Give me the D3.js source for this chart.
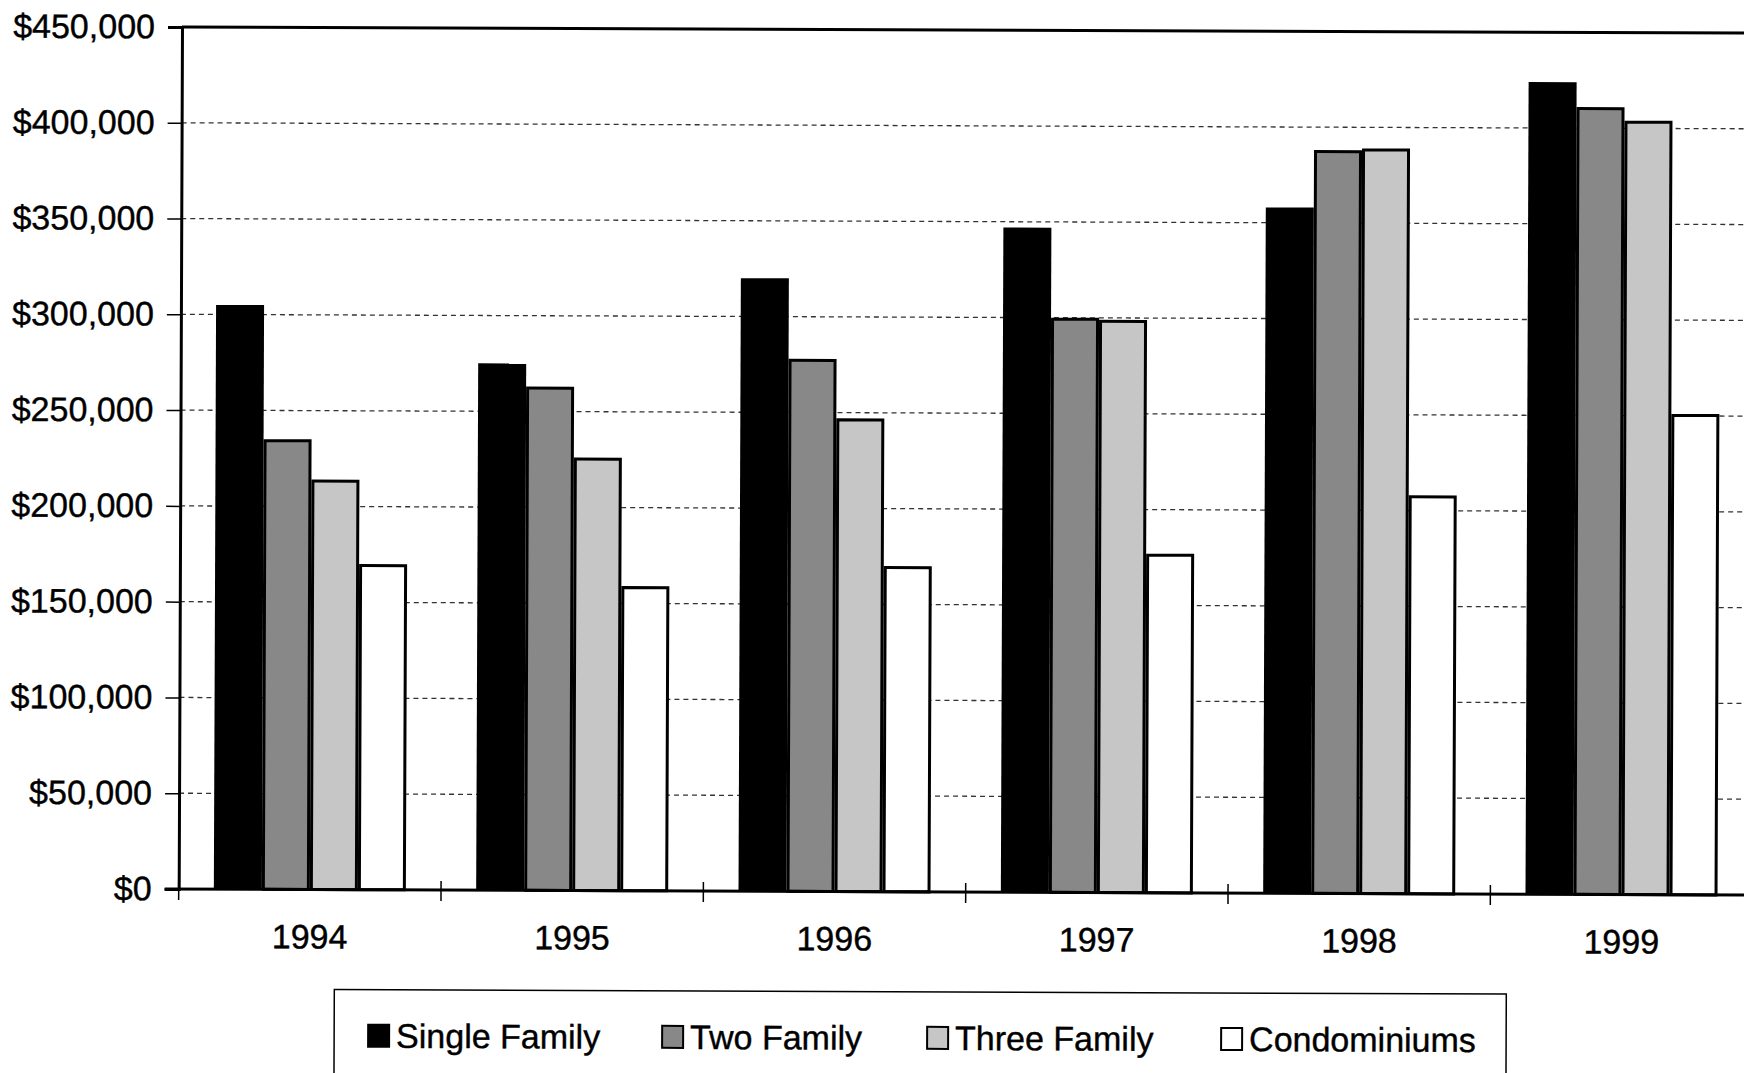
<!DOCTYPE html>
<html>
<head>
<meta charset="utf-8">
<script src="https://cdn.jsdelivr.net/npm/d3@7"></script>
<style>
  html, body { margin: 0; padding: 0; background: #fff; overflow: hidden; }
  svg { display: block; }
  text { font-family: "Liberation Sans", Arial, sans-serif; fill: #000; stroke: #000; stroke-width: 0.4px; }
</style>
</head>
<body>
<svg id="chart" width="1744" height="1073"></svg>
<script>
// ---- data ----
const years = ["1994", "1995", "1996", "1997", "1998", "1999"];
const seriesNames = ["Single Family", "Two Family", "Three Family", "Condominiums"];
const singleFamily = [305000, 275000, 320000, 347000, 358000, 424000];
const twoFamily    = [235000, 263000, 278000, 300000, 388000, 411000];
const threeFamily  = [214000, 226000, 247000, 299000, 389000, 404000];
const condominiums = [170000, 159000, 170000, 177000, 208000, 251000];
const yTicks = [0, 50000, 100000, 150000, 200000, 250000, 300000, 350000, 400000, 450000];

const seriesValues = [singleFamily, twoFamily, threeFamily, condominiums];
const fills = ["#000000", "#888888", "#c6c6c6", "#ffffff"];

// ---- layout ----
const plotLeft = 182, plotRight = 1756, plotTop = 27, plotBottom = 889;
const svgRoot = d3.select("#chart");
// the scanned original is turned by a fraction of a degree
const svg = svgRoot.append("g").attr("transform", `rotate(0.22, ${plotLeft}, ${plotTop})`);

const y = d3.scaleLinear().domain([0, 450000]).range([plotBottom, plotTop]);
const x0 = d3.scaleBand().domain(years).range([plotLeft, plotRight])
  .paddingInner(0.268).paddingOuter(0.134);
const x1 = d3.scaleBand().domain(seriesNames).range([0, x0.bandwidth()]).padding(0);
const step = x0.step();

// gridlines
svg.append("g").selectAll("line")
  .data(yTicks.filter(d => d > 0 && d < 450000))
  .join("line")
  .attr("x1", plotLeft).attr("x2", plotRight)
  .attr("y1", d => y(d)).attr("y2", d => y(d))
  .attr("stroke", "#333").attr("stroke-width", 1.3)
  .attr("stroke-dasharray", "5,4");

// bars
const groups = svg.append("g").selectAll("g")
  .data(years)
  .join("g")
  .attr("transform", d => `translate(${x0(d)},0)`);

groups.selectAll("rect")
  .data((yr, i) => seriesNames.map((s, j) => ({ s, j, v: seriesValues[j][i] })))
  .join("rect")
  .attr("x", d => x1(d.s) + (d.j === 0 ? 0 : 1.5))
  .attr("width", d => x1.bandwidth() - (d.j === 0 ? 0 : 3))
  .attr("y", d => y(d.v) + (d.j === 0 ? 0 : 1.5))
  .attr("height", d => plotBottom - y(d.v) - (d.j === 0 ? 0 : 1.5))
  .attr("fill", d => fills[d.j])
  .attr("stroke", "#000")
  .attr("stroke-width", d => d.j === 0 ? 0 : 3);

// frame: top border
svg.append("line")
  .attr("x1", plotLeft).attr("x2", plotRight).attr("y1", plotTop).attr("y2", plotTop)
  .attr("stroke", "#000").attr("stroke-width", 3);

// y axis
const yAxis = d3.axisLeft(y).tickValues(yTicks)
  .tickFormat(d => "$" + d3.format(",")(d))
  .tickSize(14).tickPadding(13);
const gy = svg.append("g").attr("transform", `translate(${plotLeft},0)`).call(yAxis);
gy.select(".domain").attr("stroke", "#000").attr("stroke-width", 3);
gy.selectAll(".tick line").attr("stroke", "#000").attr("stroke-width", 1.5);
gy.selectAll(".tick text")
  .style("font-family", '"Liberation Sans", Arial, sans-serif')
  .style("font-size", "34px").attr("fill", "#000");

// x axis (baseline, ticks between categories)
svg.append("line")
  .attr("x1", plotLeft - 14).attr("x2", plotRight).attr("y1", plotBottom).attr("y2", plotBottom)
  .attr("stroke", "#000").attr("stroke-width", 3);
svg.append("g").selectAll("line")
  .data(d3.range(years.length + 1))
  .join("line")
  .attr("x1", i => plotLeft + i * step).attr("x2", i => plotLeft + i * step)
  .attr("y1", plotBottom - 9).attr("y2", plotBottom + 11)
  .attr("stroke", "#000").attr("stroke-width", 1.5);
svg.append("g").selectAll("text")
  .data(years)
  .join("text")
  .attr("x", d => x0(d) + x0.bandwidth() / 2)
  .attr("y", 948)
  .attr("text-anchor", "middle")
  .style("font-size", "34px")
  .text(d => d);

// legend
const lg = svg.append("g");
lg.append("rect")
  .attr("x", 338).attr("y", 989).attr("width", 1172).attr("height", 100)
  .attr("fill", "#fff").attr("stroke", "#000").attr("stroke-width", 1.5);
const legendX = [371, 665, 930, 1224];
const li = lg.selectAll("g.item").data(seriesNames).join("g")
  .attr("class", "item")
  .attr("transform", (d, i) => `translate(${legendX[i]},1023)`);
li.append("rect")
  .attr("x", 1).attr("y", 1).attr("width", 21).attr("height", 22)
  .attr("fill", (d, i) => fills[i])
  .attr("stroke", "#000").attr("stroke-width", 2);
li.append("text")
  .attr("x", 29).attr("y", 24)
  .style("font-size", "34px")
  .text(d => d);
</script>
</body>
</html>
